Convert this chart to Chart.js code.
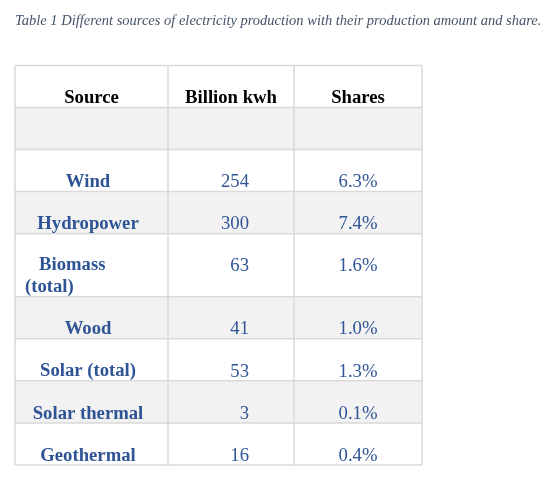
<!DOCTYPE html>
<html>
<head>
<meta charset="utf-8">
<script src="https://cdn.jsdelivr.net/npm/chart.js@4.4.1/dist/chart.umd.min.js"></script>
<style>
  html, body { margin: 0; padding: 0; background: #fff; }
  #wrap { width: 556px; height: 480px; }
</style>
</head>
<body>
<div id="wrap"><canvas id="table1"></canvas></div>
<script>
// table content
const caption = "Table 1 Different sources of electricity production with their production amount and share.";
const headers = ["Source", "Billion kwh", "Shares"];
const sources = ["", "Wind", "Hydropower", "Biomass\n(total)", "Wood", "Solar (total)", "Solar thermal", "Geothermal"];
const billionKwh = [null, 254, 300, 63, 41, 53, 3, 16];
const shares = [null, 6.3, 7.4, 1.6, 1.0, 1.3, 0.1, 0.4];

// layout of the table (relative units on the x scale, rows on the y scale)
const colWidths = [153, 126, 128];
const colAnchor = [73, 81, 64];
const colAlign = ["center", "right", "center"];
const sideMargin = 134; // empty space right of the table

const rows = [headers].concat(sources.map((s, i) => [
  s,
  billionKwh[i] == null ? "" : String(billionKwh[i]),
  shares[i] == null ? "" : shares[i].toFixed(1) + "%"
]));
const rowLines = rows.map(r => r[0].split("\n").length);
const rowUnits = rowLines.map(n => 1 + 0.5 * (n - 1));
const rowEdges = [0];
rowUnits.forEach(u => rowEdges.push(rowEdges[rowEdges.length - 1] + u));
const colEdges = [0];
colWidths.forEach(w => colEdges.push(colEdges[colEdges.length - 1] + w));

// one point per cell, text gets drawn where the point lands
const datasets = headers.map((h, c) => ({
  label: h,
  data: rows.map((r, i) => ({
    x: colEdges[c] + colAnchor[c],
    y: rowEdges[i + 1] - 0.22 - (rowLines[i] - 1) * 0.52
  })),
  pointRadius: 0,
  pointHoverRadius: 0
}));

const tablePlugin = {
  id: "tablePlugin",
  beforeDatasetsDraw(chart) {
    const { ctx, chartArea: a, scales: { x, y } } = chart;
    const left = x.getPixelForValue(0);
    const right = x.getPixelForValue(colEdges[colEdges.length - 1]);
    ctx.save();
    // banded rows
    ctx.fillStyle = "#f2f2f2";
    rows.forEach((r, i) => {
      if (i % 2 === 1) {
        const y0 = y.getPixelForValue(rowEdges[i]);
        const y1 = y.getPixelForValue(rowEdges[i + 1]);
        ctx.fillRect(left, y0, right - left, y1 - y0);
      }
    });
    // cell borders
    ctx.strokeStyle = "#d9d9d9";
    ctx.lineWidth = 1.5;
    rowEdges.forEach(v => {
      const py = y.getPixelForValue(v);
      ctx.beginPath();
      ctx.moveTo(left, py);
      ctx.lineTo(right, py);
      ctx.stroke();
    });
    colEdges.forEach(v => {
      const px = x.getPixelForValue(v);
      ctx.beginPath();
      ctx.moveTo(px, a.top);
      ctx.lineTo(px, a.bottom);
      ctx.stroke();
    });
    ctx.restore();
  },
  afterDatasetsDraw(chart) {
    const { ctx, scales: { x } } = chart;
    ctx.save();
    ctx.textBaseline = "middle";
    chart.data.datasets.forEach((ds, c) => {
      chart.getDatasetMeta(c).data.forEach((pt, i) => {
        const text = rows[i][c];
        if (!text) return;
        const lines = text.split("\n");
        const head = i === 0;
        ctx.font = (head || c === 0 ? "bold " : "") + "18.7px 'Liberation Serif', 'Times New Roman', serif";
        ctx.fillStyle = head ? "#000000" : "#2f5496";
        if (lines.length > 1) {
          // wrapped cell: left aligned in the cell
          ctx.textAlign = "left";
          const lx = x.getPixelForValue(colEdges[c]) + 10;
          lines.forEach((ln, k) => ctx.fillText(ln, lx + (k === 0 ? 14 : 0), pt.y + k * 22));
        } else {
          ctx.textAlign = head ? "center" : colAlign[c];
          const px = head ? x.getPixelForValue((colEdges[c] + colEdges[c + 1]) / 2) : pt.x;
          ctx.fillText(text, px, pt.y);
        }
      });
    });
    ctx.restore();
  }
};

new Chart(document.getElementById("table1"), {
  type: "scatter",
  data: { datasets: datasets },
  options: {
    responsive: true,
    maintainAspectRatio: false,
    animation: false,
    events: [],
    layout: { padding: { left: 15, right: 0, top: 0, bottom: 15 } },
    scales: {
      x: { type: "linear", display: false, min: 0, max: colEdges[colEdges.length - 1] + sideMargin },
      y: { type: "linear", display: false, reverse: true, min: 0, max: rowEdges[rowEdges.length - 1] }
    },
    plugins: {
      legend: { display: false },
      tooltip: { enabled: false },
      title: {
        display: true,
        text: caption,
        align: "start",
        color: "#44546a",
        font: { family: "'Liberation Serif', 'Times New Roman', serif", size: 14.5, style: "italic", weight: "normal", lineHeight: 1.2 },
        padding: { top: 12, bottom: 36 }
      }
    }
  },
  plugins: [tablePlugin]
});
</script>
</body>
</html>
